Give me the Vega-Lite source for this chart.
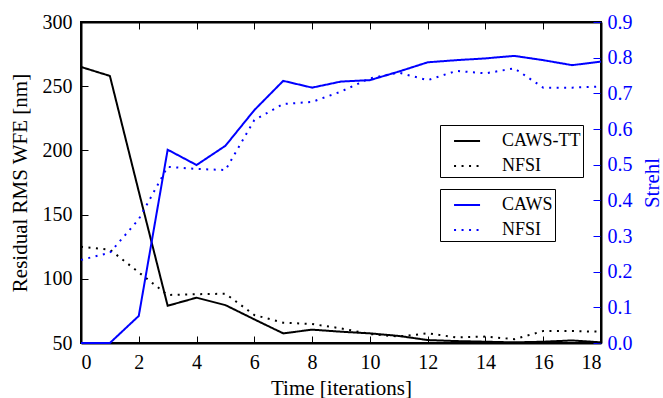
{
  "$schema": "https://vega.github.io/schema/vega-lite/v6.json",
  "width": 520,
  "height": 321,
  "autosize": "none",
  "padding": {"left": 81, "top": 22, "right": 62, "bottom": 55},
  "background": "white",
  "config": {
    "font": "Liberation Serif",
    "view": {"stroke": "black", "strokeWidth": 2},
    "axis": {"labelFont": "Liberation Serif", "titleFont": "Liberation Serif", "labelFontSize": 20, "titleFontSize": 21, "titleFontWeight": "normal", "grid": false, "domainColor": "black", "domainWidth": 2, "tickColor": "black", "tickWidth": 1, "labelColor": "black", "titleColor": "black"},
    "legend": {"labelFont": "Liberation Serif", "labelFontSize": 18}
  },
  "data": {"values": [
    {"t":0,"s":"CAWS-TT","v":265},{"t":1,"s":"CAWS-TT","v":258},{"t":2,"s":"CAWS-TT","v":168},{"t":3,"s":"CAWS-TT","v":79},{"t":4,"s":"CAWS-TT","v":85.3},{"t":5,"s":"CAWS-TT","v":79.5},{"t":6,"s":"CAWS-TT","v":68.4},{"t":7,"s":"CAWS-TT","v":57.5},{"t":8,"s":"CAWS-TT","v":60.4},{"t":9,"s":"CAWS-TT","v":58.8},{"t":10,"s":"CAWS-TT","v":57.5},{"t":11,"s":"CAWS-TT","v":55.5},{"t":12,"s":"CAWS-TT","v":52.3},{"t":13,"s":"CAWS-TT","v":51.5},{"t":14,"s":"CAWS-TT","v":51},{"t":15,"s":"CAWS-TT","v":50.5},{"t":16,"s":"CAWS-TT","v":51},{"t":17,"s":"CAWS-TT","v":52},{"t":18,"s":"CAWS-TT","v":50.5},
    {"t":0,"s":"NFSI","v":125},{"t":1,"s":"NFSI","v":122.7},{"t":2,"s":"NFSI","v":105},{"t":3,"s":"NFSI","v":87.4},{"t":4,"s":"NFSI","v":88},{"t":5,"s":"NFSI","v":88.4},{"t":6,"s":"NFSI","v":71.8},{"t":7,"s":"NFSI","v":65.8},{"t":8,"s":"NFSI","v":64.8},{"t":9,"s":"NFSI","v":61.4},{"t":10,"s":"NFSI","v":57},{"t":11,"s":"NFSI","v":55},{"t":12,"s":"NFSI","v":57.5},{"t":13,"s":"NFSI","v":54.4},{"t":14,"s":"NFSI","v":55},{"t":15,"s":"NFSI","v":53},{"t":16,"s":"NFSI","v":59.3},{"t":17,"s":"NFSI","v":59.3},{"t":18,"s":"NFSI","v":58.8}
  ]},
  "datasets": {
    "strehl": [
      {"t":0,"s":"CAWS","v":0},{"t":1,"s":"CAWS","v":0},{"t":2,"s":"CAWS","v":0.076},{"t":3,"s":"CAWS","v":0.542},{"t":4,"s":"CAWS","v":0.499},{"t":5,"s":"CAWS","v":0.553},{"t":6,"s":"CAWS","v":0.653},{"t":7,"s":"CAWS","v":0.735},{"t":8,"s":"CAWS","v":0.716},{"t":9,"s":"CAWS","v":0.733},{"t":10,"s":"CAWS","v":0.737},{"t":11,"s":"CAWS","v":0.761},{"t":12,"s":"CAWS","v":0.787},{"t":13,"s":"CAWS","v":0.793},{"t":14,"s":"CAWS","v":0.798},{"t":15,"s":"CAWS","v":0.805},{"t":16,"s":"CAWS","v":0.793},{"t":17,"s":"CAWS","v":0.779},{"t":18,"s":"CAWS","v":0.789},
      {"t":0,"s":"NFSI","v":0.233},{"t":1,"s":"NFSI","v":0.253},{"t":2,"s":"NFSI","v":0.347},{"t":3,"s":"NFSI","v":0.494},{"t":4,"s":"NFSI","v":0.488},{"t":5,"s":"NFSI","v":0.485},{"t":6,"s":"NFSI","v":0.625},{"t":7,"s":"NFSI","v":0.670},{"t":8,"s":"NFSI","v":0.676},{"t":9,"s":"NFSI","v":0.705},{"t":10,"s":"NFSI","v":0.742},{"t":11,"s":"NFSI","v":0.758},{"t":12,"s":"NFSI","v":0.737},{"t":13,"s":"NFSI","v":0.763},{"t":14,"s":"NFSI","v":0.756},{"t":15,"s":"NFSI","v":0.770},{"t":16,"s":"NFSI","v":0.716},{"t":17,"s":"NFSI","v":0.716},{"t":18,"s":"NFSI","v":0.719}
    ]
  },
  "layer": [
    {
      "mark": {"type": "line", "color": "black", "strokeWidth": 2},
      "encoding": {
        "x": {"field": "t", "type": "quantitative", "scale": {"domain": [0, 18], "nice": false},
              "axis": {"title": "Time [iterations]", "labelFont": "Liberation Serif", "titleFont": "Liberation Serif", "values": [0,2,4,6,8,10,12,14,16,18], "tickSize": -7, "labelPadding": 16, "titlePadding": 5}},
        "y": {"field": "v", "type": "quantitative", "scale": {"domain": [50, 300], "nice": false, "zero": false},
              "axis": {"title": "Residual RMS WFE [nm]", "labelFont": "Liberation Serif", "titleFont": "Liberation Serif", "values": [50,100,150,200,250,300], "tickSize": -7, "labelPadding": 16, "titlePadding": 12}},
        "strokeDash": {"field": "s", "type": "nominal",
          "scale": {"domain": ["CAWS-TT", "NFSI"], "range": [[1, 0], [2, 5.5]]},
          "legend": {"title": null, "orient": "none", "legendX": 359, "legendY": 103, "strokeColor": "black", "padding": 2, "symbolType": "M-0.15,0H1.85", "symbolSize": 676, "symbolStrokeWidth": 2, "symbolStrokeColor": "black", "symbolFillColor": "transparent", "labelOffset": 32, "rowPadding": 2, "cornerRadius": 0}}
      }
    },
    {
      "data": {"name": "strehl"},
      "mark": {"type": "line", "color": "#0000ff", "strokeWidth": 2},
      "encoding": {
        "x": {"field": "t", "type": "quantitative", "scale": {"domain": [0, 18], "nice": false},
              "axis": {"orient": "top", "title": null, "labels": false, "values": [0,2,4,6,8,10,12,14,16,18], "tickSize": -7}},
        "y": {"field": "v", "type": "quantitative", "scale": {"domain": [0, 0.9], "nice": false},
              "axis": {"orient": "right", "title": "Strehl", "labelFont": "Liberation Serif", "titleFont": "Liberation Serif", "titleColor": "#0000ff", "labelColor": "#0000ff", "tickColor": "#0000ff", "format": ".1f", "values": [0,0.1,0.2,0.3,0.4,0.5,0.6,0.7,0.8,0.9], "tickSize": -8, "labelPadding": 14, "titlePadding": 9, "titleAngle": 270, "titleBaseline": "top"}},
        "strokeDash": {"field": "s", "type": "nominal",
          "scale": {"domain": ["CAWS", "NFSI"], "range": [[1, 0], [2, 5.5]]},
          "legend": {"title": null, "orient": "none", "legendX": 359, "legendY": 167, "strokeColor": "black", "padding": 2, "symbolType": "M-0.15,0H1.85", "symbolSize": 676, "symbolStrokeWidth": 2, "symbolStrokeColor": "#0000ff", "symbolFillColor": "transparent", "labelOffset": 32, "rowPadding": 2, "cornerRadius": 0}}
      }
    }
  ],
  "resolve": {"scale": {"y": "independent", "strokeDash": "independent"}, "axis": {"x": "independent"}, "legend": {"strokeDash": "independent"}}
}
